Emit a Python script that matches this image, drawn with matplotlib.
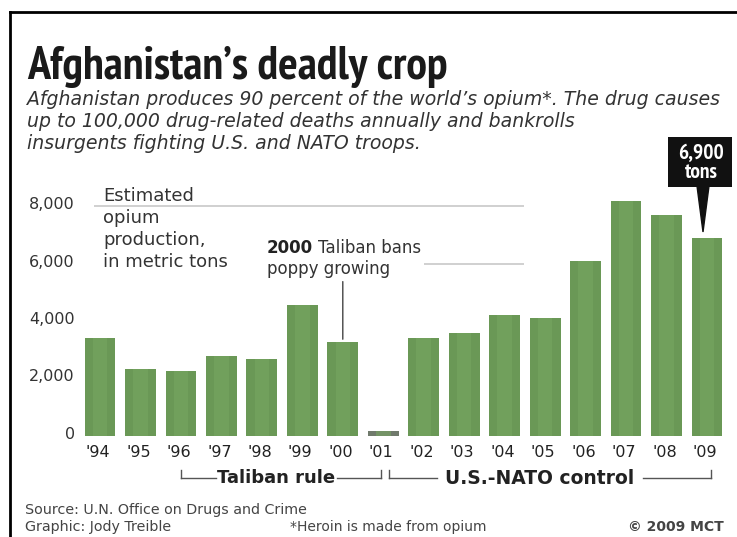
import matplotlib
matplotlib.use("Agg")
import matplotlib.pyplot as plt
from matplotlib.patches import Polygon, Rectangle
from matplotlib.lines import Line2D
from matplotlib import font_manager as fm

years = ["'94", "'95", "'96", "'97", "'98", "'99", "'00", "'01",
         "'02", "'03", "'04", "'05", "'06", "'07", "'08", "'09"]
production = [3415, 2335, 2248, 2804, 2693, 4565, 3276, 185,
              3400, 3600, 4200, 4100, 6100, 8200, 7700, 6900]
yticks = [0, 2000, 4000, 6000, 8000]
ytick_labels = ["0", "2,000", "4,000", "6,000", "8,000"]
subtitle_lines = [
    "Afghanistan produces 90 percent of the world\u2019s opium*. The drug causes",
    "up to 100,000 drug-related deaths annually and bankrolls",
    "insurgents fighting U.S. and NATO troops.",
]

W, H = 737, 537
fig = plt.figure(figsize=(W / 100, H / 100), dpi=100)
fig.patch.set_facecolor("white")


def fx(px):
    return px / W


def fy(py):
    return 1 - py / H


# look for a condensed bold face for the headline
narrow_file = None
for f in fm.fontManager.ttflist:
    nm = f.name.lower()
    st = str(f.stretch).lower()
    wt = f.weight if isinstance(f.weight, int) else (700 if "bold" in str(f.weight).lower() else 400)
    if ("narrow" in nm or "condensed" in nm or "condensed" in st) and wt >= 600 and f.style == "normal":
        narrow_file = f.fname
        if "narrow" in nm:
            break
if narrow_file:
    title_fp = fm.FontProperties(fname=narrow_file)
    title_size = 48
else:
    title_fp = fm.FontProperties(family="Liberation Sans", weight="bold")
    title_size = 40

SANS = ["DejaVu Sans"]

# axes: baseline at y=436 px
base_px = 436
ppu = 0.0287
ytop = 8500
ax_h = ytop * ppu
sp = 40.53
left_px = 100 - 0.7 * sp
right_px = 707 + 0.7 * sp
ax = fig.add_axes([fx(left_px), fy(base_px), fx(right_px - left_px), ax_h / H])
ax.set_xlim(-0.7, 15.7)
ax.set_ylim(0, ytop)
ax.axis("off")

x = list(range(len(years)))
colors = ["#6a9856"] * len(years)
colors[7] = "#707a6c"
ax.bar(x, production, width=0.76, color=colors, edgecolor="none", zorder=2)
ax.bar(x, production, width=0.36, color="#78a862", edgecolor="none", zorder=2, alpha=0.55)

# partial gridlines
ax.hlines(8000, -0.15, 10.47, color="#c8c8c8", lw=1.2, zorder=1)
ax.hlines(6000, 8.0, 10.47, color="#c8c8c8", lw=1.2, zorder=1)

# y tick labels
for v, lab in zip(yticks, ytick_labels):
    ax.text(-0.62, v + 60, lab, ha="right", va="center", fontsize=11.5, color="#333333",
            family=SANS)
# x tick labels
for xi, lab in zip(x, years):
    ax.text(xi - 0.05, -590, lab, ha="center", va="center", fontsize=11.5, color="#222222",
            family=SANS)

# frame
fig.add_artist(Line2D([fx(10), fx(10)], [fy(12), 0], color="black", lw=2))
fig.add_artist(Line2D([fx(10), 1], [fy(12), fy(12)], color="black", lw=2))

# title, sized to span about the same width as the reference headline
t = fig.text(fx(27), fy(79), "Afghanistan\u2019s deadly crop", fontproperties=title_fp,
             fontsize=title_size, color="#1a1a1a", ha="left", va="baseline")
fig.canvas.draw()
renderer = fig.canvas.get_renderer()
bb = t.get_window_extent(renderer=renderer)
target_w = 448 - 27
t.set_fontsize(title_size * target_w / bb.width)

for i, line in enumerate(subtitle_lines):
    fig.text(fx(27), fy(105 + 22 * i), line, fontsize=13.6, style="italic", family=SANS,
             color="#333333", ha="left", va="baseline")

# y axis description
fig.text(fx(103), fy(187), "Estimated\nopium\nproduction,\nin metric tons",
         fontsize=13, family=SANS, color="#333333", ha="left", va="top",
         linespacing=1.28)

# annotation 2000
t2000 = fig.text(fx(267), fy(248), "2000", fontsize=12, fontweight="bold", family=SANS,
                 color="#222222", ha="left", va="center")
fig.canvas.draw()
w2000 = t2000.get_window_extent(renderer=renderer).width
fig.text(fx(267 + w2000 + 5), fy(248), "Taliban bans", fontsize=12, family=SANS,
         color="#333333", ha="left", va="center")
fig.text(fx(267), fy(269), "poppy growing", fontsize=12, family=SANS,
         color="#333333", ha="left", va="center")
ax.annotate("", xy=(6, production[6]), xytext=(6, production[6] + 2200),
            arrowprops=dict(arrowstyle="-", color="#444444", lw=1))

# 6,900 tons callout
fig.add_artist(Rectangle((fx(668), fy(187)), fx(732 - 668), (187 - 137) / H,
                         transform=fig.transFigure, fc="#111111", ec="none"))
fig.add_artist(Polygon([[fx(697), fy(186)], [fx(709), fy(186)], [fx(703), fy(232)]],
                       closed=True, color="#111111", transform=fig.transFigure))
fig.text(fx(701), fy(163), "6,900\ntons", fontproperties=title_fp, fontsize=15.5,
         color="white", ha="center", va="center", linespacing=0.98)

# brackets
yb = fy(478)
tick = 8 / H
brk = dict(color="#555555", lw=1)
fig.add_artist(Line2D([fx(181), fx(181)], [yb, yb + tick], **brk))
fig.add_artist(Line2D([fx(181), fx(216)], [yb, yb], **brk))
fig.add_artist(Line2D([fx(337), fx(381)], [yb, yb], **brk))
fig.add_artist(Line2D([fx(381), fx(381)], [yb, yb + tick], **brk))
fig.text(fx(276), yb, "Taliban rule", fontsize=13, fontweight="bold", family=SANS,
         color="#222222", ha="center", va="center")
fig.add_artist(Line2D([fx(389), fx(389)], [yb, yb + tick], **brk))
fig.add_artist(Line2D([fx(389), fx(437)], [yb, yb], **brk))
fig.add_artist(Line2D([fx(643), fx(711)], [yb, yb], **brk))
fig.add_artist(Line2D([fx(711), fx(711)], [yb, yb + tick], **brk))
fig.text(fx(540), yb, "U.S.-NATO control", fontsize=13.5, fontweight="bold",
         family=SANS, color="#222222", ha="center", va="center")

# footer
fig.text(fx(25), fy(510), "Source: U.N. Office on Drugs and Crime", fontsize=10.3,
         family=SANS, color="#444444", ha="left", va="center")
fig.text(fx(25), fy(527), "Graphic: Jody Treible", fontsize=10.3,
         family=SANS, color="#444444", ha="left", va="center")
fig.text(fx(290), fy(527), "*Heroin is made from opium", fontsize=10,
         family=SANS, color="#444444", ha="left", va="center")
fig.text(fx(724), fy(527), "\u00a9 2009 MCT", fontsize=10, fontweight="bold",
         family=SANS, color="#444444", ha="right", va="center")

fig.savefig("out.png", dpi=100, facecolor="white")
